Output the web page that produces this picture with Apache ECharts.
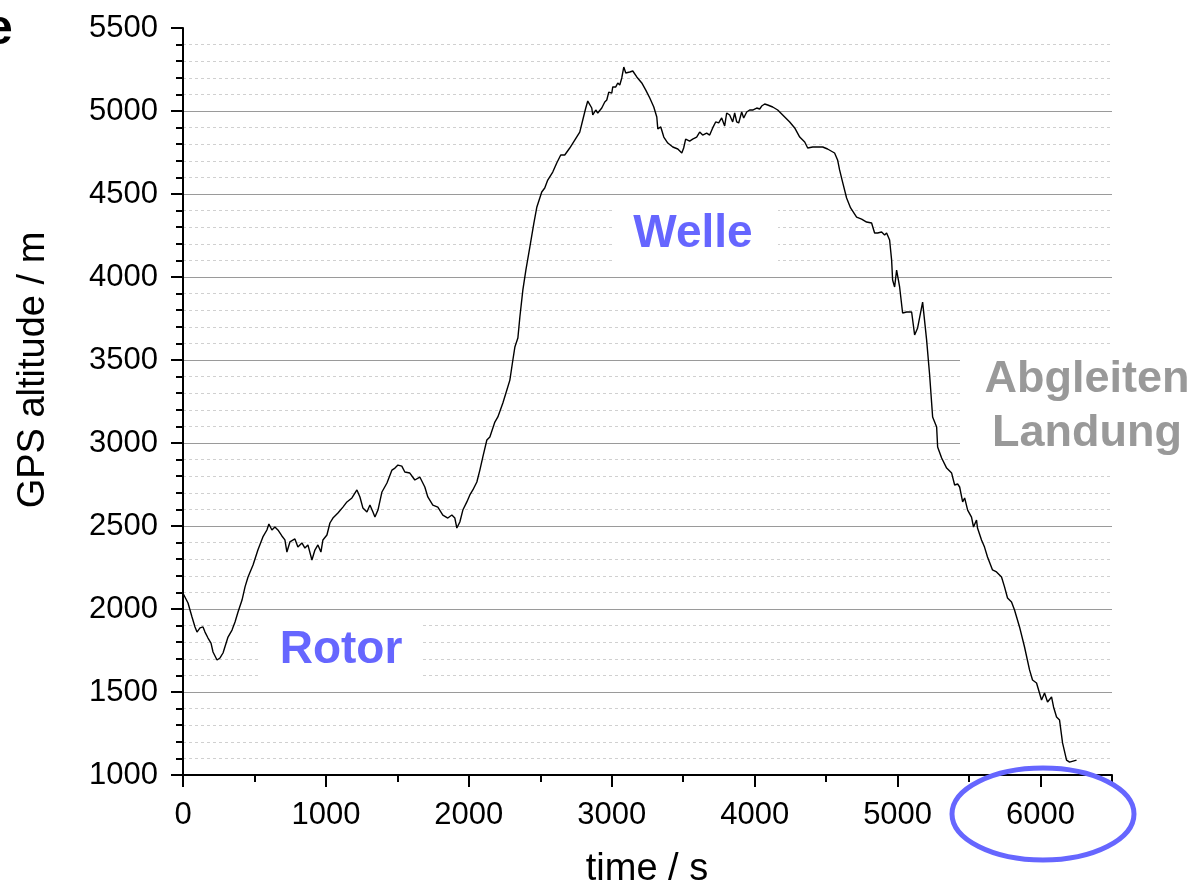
<!DOCTYPE html>
<html>
<head>
<meta charset="utf-8">
<script src="https://cdn.jsdelivr.net/npm/echarts@6/dist/echarts.min.js"></script>
<style>
  html, body { margin: 0; padding: 0; background: #fff; }
  #chart { width: 1200px; height: 890px; }
</style>
</head>
<body>
<div id="chart"></div>
<script>
// flight time in seconds
const times = [
  0, 35, 63, 84, 98, 119, 140, 154, 175, 196, 210, 238, 259, 280, 315, 343, 364, 385, 413, 434,
  455, 490, 524, 559, 587, 601, 622, 643, 664, 692, 713, 727, 748, 783, 804, 832, 853, 874, 902, 923,
  944, 965, 979, 1007, 1028, 1049, 1084, 1119, 1147, 1182, 1217, 1238, 1259, 1287, 1308, 1329, 1343, 1364, 1392, 1427,
  1462, 1483, 1504, 1531, 1552, 1587, 1622, 1657, 1692, 1713, 1748, 1783, 1818, 1853, 1881, 1902, 1916, 1937, 1958, 1986, 2007,
  2028, 2056, 2077, 2098, 2126, 2147, 2182, 2203, 2238, 2266, 2287, 2308, 2322, 2343, 2357, 2378, 2399, 2427, 2455, 2476,
  2510, 2531, 2552, 2587, 2615, 2643, 2671, 2706,
  2741, 2776, 2797, 2818, 2832, 2860, 2867, 2888, 2902, 2930, 2951, 2965, 2979, 3000, 3007, 3028, 3042, 3056, 3070, 3084,
  3098, 3126, 3147, 3175, 3210, 3238, 3266, 3294, 3315, 3322, 3343, 3364, 3392, 3427, 3462, 3490, 3503, 3517, 3545, 3566,
  3594, 3615, 3636, 3664, 3685, 3706, 3727, 3748, 3769, 3790, 3804, 3825, 3846, 3860, 3874, 3888, 3909, 3923, 3944, 3965,
  3986, 4014, 4035, 4049, 4070, 4091, 4126, 4161, 4196, 4245, 4280, 4315, 4350, 4371, 4406, 4441, 4476, 4510, 4559, 4580, 4594,
  4615, 4643, 4671, 4713, 4748, 4783, 4818, 4839, 4860, 4888, 4909, 4923, 4944, 4958, 4965, 4979, 4993, 5014, 5035, 5063,
  5098, 5119, 5140, 5175, 5203, 5224, 5245, 5273, 5280, 5308, 5343, 5378, 5399, 5420, 5434, 5455, 5469, 5490, 5517, 5531,
  5552, 5559, 5587, 5608, 5629, 5664, 5692, 5727, 5748, 5769, 5797, 5818, 5853, 5888, 5923, 5944, 5972, 6007, 6028, 6049,
  6077, 6091, 6112, 6133, 6154, 6182, 6203, 6252
]

// GPS altitude in metres
const altitudes = [
  2095, 2036, 1952, 1892, 1861, 1886, 1892, 1861, 1825, 1795, 1741, 1693, 1705, 1735, 1831, 1873, 1922, 1982, 2054, 2133,
  2193, 2265, 2355, 2434, 2476, 2512, 2476, 2494, 2476, 2440, 2416, 2343, 2404, 2422, 2373, 2398, 2367, 2386, 2295, 2355,
  2386, 2343, 2416, 2446, 2518, 2548, 2578, 2614, 2645, 2669, 2717, 2675, 2608, 2584, 2626, 2584, 2554, 2596, 2705, 2759,
  2837, 2849, 2867, 2861, 2825, 2819, 2777, 2795, 2735, 2675, 2626, 2614, 2566, 2548, 2566, 2548, 2488, 2524, 2596, 2645, 2687,
  2717, 2765, 2837, 2916, 3018, 3036, 3126, 3157, 3241, 3319, 3379, 3500, 3578, 3632, 3759, 3922, 4042, 4181, 4325, 4422,
  4512, 4536, 4584, 4632, 4687, 4735, 4735, 4777,
  4825, 4873, 4946, 5018, 5060, 5018, 4976, 5006, 4988, 5018, 5054, 5066, 5114, 5108, 5145, 5145, 5169, 5157, 5199, 5265,
  5229, 5235, 5241, 5205, 5169, 5126, 5078, 5024, 4964, 4892, 4904, 4843, 4807, 4783, 4771, 4747, 4777, 4831, 4819, 4831,
  4843, 4873, 4855, 4867, 4855, 4898, 4934, 4928, 4958, 4910, 4988, 4976, 4934, 4988, 4934, 4928, 4994, 4958, 4994, 5006,
  5006, 5018, 5012, 5030, 5042, 5036, 5024, 5006, 4976, 4934, 4898, 4843, 4813, 4777, 4783, 4783, 4783, 4771, 4747, 4705, 4645,
  4572, 4476, 4416, 4361, 4349, 4331, 4325, 4265, 4265, 4271, 4253, 4265, 4223, 4102, 3982, 3940, 4042, 3940, 3783, 3789,
  3789, 3651, 3693, 3849, 3620, 3410, 3157, 3096, 2976, 2910, 2849, 2819, 2747, 2753, 2735, 2645, 2669, 2596, 2554, 2494,
  2536, 2488, 2416, 2373, 2313, 2235, 2223, 2193, 2133, 2066, 2042, 1994, 1892, 1771, 1633, 1572, 1554, 1452, 1494, 1440,
  1470, 1410, 1349, 1331, 1193, 1090, 1078, 1090
]

const xTicks = [0, 1000, 2000, 3000, 4000, 5000, 6000]

const font = 'Liberation Sans, Arial, sans-serif'
const blue = '#6666ff'
const gray = '#999999'

const chart = echarts.init(document.getElementById('chart'))

const option = {
  backgroundColor: '#fff',
  animation: false,
  grid: { left: 183, right: 88, top: 28, bottom: 115 },
  xAxis: [
    {
      type: 'value',
      min: 0,
      max: 6500,
      interval: 1000,
      axisLine: { lineStyle: { color: '#000', width: 2 } },
      axisTick: { length: 12, customValues: xTicks, lineStyle: { color: '#000', width: 2 } },
      axisLabel: {
        customValues: xTicks,
        formatter: (v) => String(v),
        margin: 25,
        color: '#000',
        fontSize: 31,
        fontFamily: font
      },
      splitLine: { show: false }
    },
    {
      // minor ticks every 500 s
      type: 'value',
      min: 0,
      max: 6500,
      interval: 500,
      position: 'bottom',
      axisLine: { show: false },
      axisTick: { length: 7, lineStyle: { color: '#000', width: 2 } },
      axisLabel: { show: false },
      splitLine: { show: false }
    }
  ],
  yAxis: {
    type: 'value',
    min: 1000,
    max: 5500,
    interval: 500,
    axisLine: { show: true, lineStyle: { color: '#000', width: 2 } },
    axisTick: { show: true, length: 12, lineStyle: { color: '#000', width: 2 } },
    minorTick: { show: true, splitNumber: 5, length: 7, lineStyle: { color: '#000', width: 2 } },
    axisLabel: { formatter: (v) => String(v), margin: 25, color: '#000', fontSize: 31, fontFamily: font },
    splitLine: {
      show: true,
      showMinLine: false,
      showMaxLine: false,
      lineStyle: { color: '#9a9a9a', width: 1.2 }
    },
    minorSplitLine: {
      show: true,
      lineStyle: { color: '#d0d0d0', width: 1, type: [3, 3] }
    }
  },
  series: [
    {
      type: 'line',
      xAxisIndex: 0,
      data: times.map((t, i) => [t, altitudes[i]]),
      showSymbol: false,
      lineStyle: { color: '#000', width: 1.4 },
      z: 3
    }
  ],
  graphic: [
    // white boxes behind the annotations
    { type: 'rect', z: 1, shape: { x: 612, y: 200, width: 166, height: 68 }, style: { fill: '#fff' } },
    { type: 'rect', z: 1, shape: { x: 258, y: 615, width: 165, height: 73 }, style: { fill: '#fff' } },
    { type: 'rect', z: 1, shape: { x: 960, y: 350, width: 240, height: 118 }, style: { fill: '#fff' } },
    {
      type: 'text', z: 5, x: 693, y: 234,
      style: { text: 'Welle', fill: blue, font: 'bold 46px ' + font, textAlign: 'center', textVerticalAlign: 'middle' }
    },
    {
      type: 'text', z: 5, x: 341, y: 650,
      style: { text: 'Rotor', fill: blue, font: 'bold 46px ' + font, textAlign: 'center', textVerticalAlign: 'middle' }
    },
    {
      type: 'text', z: 5, x: 1087, y: 407,
      style: {
        text: 'Abgleiten\nLandung', fill: gray, font: 'bold 45px ' + font,
        lineHeight: 54, textAlign: 'center', textVerticalAlign: 'middle'
      }
    },
    {
      type: 'text', z: 5, x: -15, y: 30,
      style: { text: 'e', fill: '#000', font: 'bold 50px ' + font, textAlign: 'left', textVerticalAlign: 'middle' }
    },
    {
      type: 'text', z: 5, x: 647, y: 870,
      style: { text: 'time / s', fill: '#000', font: '38px ' + font, textAlign: 'center', textVerticalAlign: 'middle' }
    },
    {
      type: 'text', z: 5, x: 34, y: 370, rotation: Math.PI / 2,
      style: { text: 'GPS altitude / m', fill: '#000', font: '38px ' + font, textAlign: 'center', textVerticalAlign: 'middle' }
    },
    {
      type: 'ellipse', z: 10,
      shape: { cx: 1043, cy: 814, rx: 91, ry: 46 },
      style: { fill: 'none', stroke: blue, lineWidth: 5 }
    }
  ]
}

chart.setOption(option)
</script>
</body>
</html>
